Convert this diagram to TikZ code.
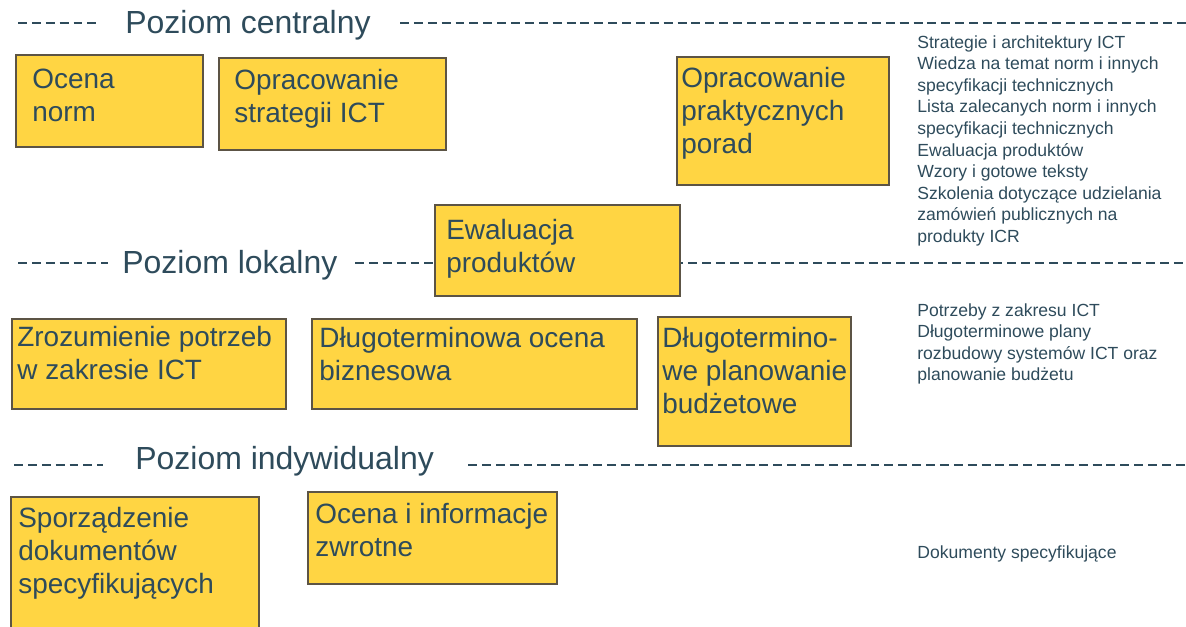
\documentclass[tikz,border=0pt]{standalone}
\usepackage{fontspec}
\setmainfont{Liberation Sans}
\usetikzlibrary{fit, positioning}
\definecolor{boxfill}{HTML}{FFD543}
\definecolor{boxline}{HTML}{5C5445}
\definecolor{ink}{HTML}{2E4B5B}

\tikzset{
  box/.style={draw=boxline, line width=1.1pt, fill=boxfill, inner sep=0pt},
  boxtext/.style={anchor=north west, inner sep=0pt, align=left, text=ink,
    font=\fontsize{15.9}{18.7}\selectfont},
  level/.style={anchor=base west, inner sep=0pt, text=ink,
    font=\fontsize{18.2}{21}\selectfont},
  levelline/.style={draw=ink, line width=1.4pt, dash pattern=on 5.1pt off 2.8pt},
  note/.style={anchor=north west, inner sep=0pt, align=left, text=ink,
    font=\fontsize{10}{12.3}\selectfont},
}

\begin{document}
\begin{tikzpicture}[x=0.02cm, y=-0.02cm]
\useasboundingbox (0,0) rectangle (1186,626);

% poziomy
\node[level](L1) at (125,33) {Poziom centralny};
\node[level](L2) at (122,273) {Poziom lokalny};
\node[level](L3) at (135,469) {Poziom indywidualny};

\coordinate(L1a) at (18,23);
\coordinate(L1b) at (100,23);
\coordinate(L1c) at (400,23);
\coordinate(L1d) at (1186,23);
\coordinate(L2a) at (18,263);
\coordinate(L2b) at (108,263);
\coordinate(L2c) at (355,263);
\coordinate(L2d) at (1186,263);
\coordinate(L3a) at (14,465);
\coordinate(L3b) at (103,465);
\coordinate(L3c) at (468,465);
\coordinate(L3d) at (1186,465);

\draw[levelline] (L1a) -- (L1b);
\draw[levelline] (L1c) -- (L1d);
\draw[levelline] (L2a) -- (L2b);
\draw[levelline] (L2c) -- (L2d);
\draw[levelline] (L3a) -- (L3b);
\draw[levelline] (L3c) -- (L3d);

% pola
\node[box, fit={(16,55) (203,147)}](B1) {};
\node[box, fit={(219,58) (446,150)}](B2) {};
\node[box, fit={(677,57) (889,185)}](B3) {};
\node[box, fit={(435,205) (680,296)}](B4) {};
\node[box, fit={(12,319) (286,409)}](B5) {};
\node[box, fit={(312,319) (637,409)}](B6) {};
\node[box, fit={(658,317) (851,446)}](B7) {};
\node[box, fit={(11,497) (259,640)}](B8) {};
\node[box, fit={(308,492) (557,584)}](B9) {};

\node[boxtext](T1) at (32,69) {Ocena\\norm};
\node[boxtext](T2) at (234,69) {Opracowanie\\strategii ICT};
\node[boxtext](T3) at (681,67) {Opracowanie\\praktycznych\\porad};
\node[boxtext](T4) at (446,219) {Ewaluacja\\produktów};
\node[boxtext](T5) at (17,326) {Zrozumienie potrzeb\\w zakresie ICT};
\node[boxtext](T6) at (319,327) {Długoterminowa ocena\\biznesowa};
\node[boxtext](T7) at (662,327) {Długotermino-\\we planowanie\\budżetowe};
\node[boxtext](T8) at (18,507) {Sporządzenie\\dokumentów\\specyfikujących};
\node[boxtext](T9) at (315,503) {Ocena i informacje\\zwrotne};

% wyniki
\node[note](N1) at (917,35) {Strategie i architektury ICT\\Wiedza na temat norm i innych\\specyfikacji technicznych\\Lista zalecanych norm i innych\\specyfikacji technicznych\\Ewaluacja produktów\\Wzory i gotowe teksty\\Szkolenia dotyczące udzielania\\zamówień publicznych na\\produkty ICR};
\node[note](N2) at (917,303) {Potrzeby z zakresu ICT\\Długoterminowe plany\\rozbudowy systemów ICT oraz\\planowanie budżetu};
\node[note](N3) at (917,545) {Dokumenty specyfikujące};
\end{tikzpicture}
\end{document}
